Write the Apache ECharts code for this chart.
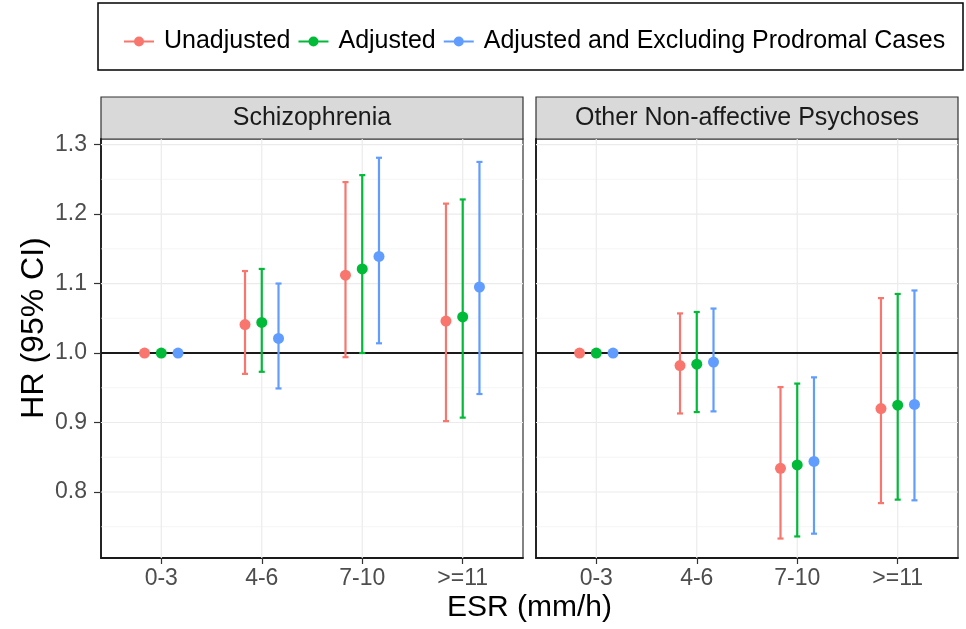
<!DOCTYPE html>
<html><head><meta charset="utf-8">
<script src="https://cdn.jsdelivr.net/npm/echarts@6/dist/echarts.min.js"></script>
<style>html,body{margin:0;padding:0;background:#fff}#c{width:966px;height:629px}</style>
</head><body><div id="c"></div>
<script>
// ---------- data ----------
const categories = ['0-3', '4-6', '7-10', '>=11'];
const panels = ['Schizophrenia', 'Other Non-affective Psychoses'];
const seriesNames = ['Unadjusted', 'Adjusted', 'Adjusted and Excluding Prodromal Cases'];
const yTicks = [0.8, 0.9, 1.0, 1.1, 1.2, 1.3];
const yMinor = [0.75, 0.85, 0.95, 1.05, 1.15, 1.25];
const refLine = [1.0];

// Schizophrenia panel
const schUnadjHR = [1.0, 1.041, 1.112, 1.046];
const schUnadjLo = [1.0, 0.970, 0.994, 0.902];
const schUnadjHi = [1.0, 1.118, 1.246, 1.215];
const schAdjHR = [1.0, 1.044, 1.121, 1.052];
const schAdjLo = [1.0, 0.973, 1.000, 0.907];
const schAdjHi = [1.0, 1.121, 1.256, 1.221];
const schExclHR = [1.0, 1.021, 1.139, 1.095];
const schExclLo = [1.0, 0.949, 1.014, 0.941];
const schExclHi = [1.0, 1.100, 1.281, 1.275];

// Other Non-affective Psychoses panel
const onpUnadjHR = [1.0, 0.982, 0.834, 0.920];
const onpUnadjLo = [1.0, 0.913, 0.733, 0.784];
const onpUnadjHi = [1.0, 1.057, 0.951, 1.079];
const onpAdjHR = [1.0, 0.984, 0.839, 0.925];
const onpAdjLo = [1.0, 0.915, 0.736, 0.789];
const onpAdjHi = [1.0, 1.059, 0.956, 1.085];
const onpExclHR = [1.0, 0.987, 0.844, 0.926];
const onpExclLo = [1.0, 0.916, 0.740, 0.788];
const onpExclHi = [1.0, 1.064, 0.965, 1.090];

// ---------- styling / layout ----------
const colors = ['#F8766D', '#00BA38', '#619CFF'];
const FONT = "'Liberation Sans', Arial, Helvetica, sans-serif";
const Y_MIN = 0.705, Y_MAX = 1.308;
const X_MIN = 0.4, X_MAX = 4.6;
const DODGE = [-1 / 6, 0, 1 / 6];
const CAP_W = 0.06;
const gridPos = [{ left: 101, top: 139, width: 422, height: 419 },
                 { left: 536, top: 139, width: 422, height: 419 }];

const panelData = [
  [[schUnadjHR, schUnadjLo, schUnadjHi], [schAdjHR, schAdjLo, schAdjHi], [schExclHR, schExclLo, schExclHi]],
  [[onpUnadjHR, onpUnadjLo, onpUnadjHi], [onpAdjHR, onpAdjLo, onpAdjHi], [onpExclHR, onpExclLo, onpExclHi]]
];

function hGridRender(width, color) {
  return function (params, api) {
    const y = api.coord([1, api.value(1)])[1];
    const cs = params.coordSys;
    return { type: 'line', shape: { x1: cs.x, y1: y, x2: cs.x + cs.width, y2: y },
             style: { stroke: color, lineWidth: width } };
  };
}
function vGridRender(width, color) {
  return function (params, api) {
    const x = api.coord([api.value(0), 1])[0];
    const cs = params.coordSys;
    return { type: 'line', shape: { x1: x, y1: cs.y, x2: x, y2: cs.y + cs.height },
             style: { stroke: color, lineWidth: width } };
  };
}
function errRender(params, api) {
  const x = api.value(0), lo = api.value(1), hi = api.value(2);
  const pLo = api.coord([x, lo]), pHi = api.coord([x, hi]);
  const hw = api.size([CAP_W, 0])[0] / 2;
  const style = { stroke: api.visual('color'), lineWidth: 2.2 };
  return { type: 'group', children: [
    { type: 'line', shape: { x1: pLo[0], y1: pLo[1], x2: pHi[0], y2: pHi[1] }, style },
    { type: 'line', shape: { x1: pLo[0] - hw, y1: pLo[1], x2: pLo[0] + hw, y2: pLo[1] }, style },
    { type: 'line', shape: { x1: pHi[0] - hw, y1: pHi[1], x2: pHi[0] + hw, y2: pHi[1] }, style }
  ] };
}

const series = [];
const xAxes = [], yAxes = [];
panels.forEach((p, pi) => {
  xAxes.push({
    type: 'value', gridIndex: pi, min: X_MIN, max: X_MAX,
    splitLine: { show: false },
    axisLine: { show: true, onZero: false, lineStyle: { color: '#1a1a1a', width: 1.8 } },
    axisTick: { show: true, length: 6, customValues: categories.map((c, i) => i + 1), lineStyle: { color: '#333', width: 1.2 } },
    axisLabel: {
      customValues: categories.map((c, i) => i + 1), margin: 9,
      fontSize: 23, color: '#4D4D4D', fontFamily: FONT,
      formatter: v => { const i = Math.round(v) - 1; return (Math.abs(v - Math.round(v)) < 1e-6 && categories[i]) ? categories[i] : ''; }
    }
  });
  yAxes.push({
    type: 'value', gridIndex: pi, min: Y_MIN, max: Y_MAX,
    splitLine: { show: false },
    axisLine: { show: true, onZero: false, lineStyle: { color: '#1a1a1a', width: 1.8 } },
    axisTick: { show: pi === 0, length: 7, customValues: yTicks, lineStyle: { color: '#333', width: 1.2 } },
    axisLabel: {
      show: pi === 0, customValues: yTicks, margin: 14,
      fontSize: 23, color: '#4D4D4D', fontFamily: FONT,
      formatter: v => yTicks.some(t => Math.abs(t - v) < 1e-6) ? v.toFixed(1) : ''
    }
  });
  // gridlines
  series.push({ type: 'custom', xAxisIndex: pi, yAxisIndex: pi, z: 1, silent: true,
    renderItem: hGridRender(0.6, '#EEEEEE'), data: yMinor.map(v => [1, v]), encode: { x: 0, y: 1 } });
  series.push({ type: 'custom', xAxisIndex: pi, yAxisIndex: pi, z: 1, silent: true,
    renderItem: hGridRender(1.2, '#EBEBEB'), data: yTicks.map(v => [1, v]), encode: { x: 0, y: 1 } });
  series.push({ type: 'custom', xAxisIndex: pi, yAxisIndex: pi, z: 1, silent: true,
    renderItem: vGridRender(1.2, '#EBEBEB'), data: categories.map((c, i) => [i + 1, 1]), encode: { x: 0, y: 1 } });
  // reference line
  series.push({ type: 'custom', xAxisIndex: pi, yAxisIndex: pi, z: 2, silent: true,
    renderItem: hGridRender(2, '#1a1a1a'), data: refLine.map(v => [1, v]), encode: { x: 0, y: 1 } });
  // points first (for legend lookup), then error bars
  panelData[pi].forEach((arrs, si) => {
    const [hr] = arrs;
    series.push({
      type: 'scatter', name: seriesNames[si], xAxisIndex: pi, yAxisIndex: pi, z: 4,
      symbol: 'circle', symbolSize: 11, itemStyle: { color: colors[si], opacity: 1 },
      data: hr.map((v, ci) => [ci + 1 + DODGE[si], v])
    });
  });
  panelData[pi].forEach((arrs, si) => {
    const [hr, lo, hi] = arrs;
    series.push({
      type: 'custom', name: seriesNames[si], xAxisIndex: pi, yAxisIndex: pi, z: 3,
      itemStyle: { color: colors[si] }, renderItem: errRender,
      data: hr.map((v, ci) => [ci + 1 + DODGE[si], lo[ci], hi[ci]]),
      encode: { x: 0, y: [1, 2] }
    });
  });
});

const legendIcon = 'path://M0,4H30V6H0Z M20,5A5,5,0,1,1,10,5A5,5,0,1,1,20,5Z';

const graphic = [
  { type: 'rect', shape: { x: 98, y: 3, width: 865, height: 67 }, style: { fill: '#fff', stroke: '#000', lineWidth: 1.5 }, z: 0 },
  { type: 'text', x: 34, y: 328, rotation: Math.PI / 2, style: { text: 'HR (95% CI)', fontSize: 32, fontFamily: FONT, fill: '#000', align: 'center', verticalAlign: 'middle' } },
  { type: 'text', x: 529.5, y: 608, style: { text: 'ESR (mm/h)', fontSize: 30, fontFamily: FONT, fill: '#000', align: 'center', verticalAlign: 'middle' } }
];
panels.forEach((p, pi) => {
  const g = gridPos[pi];
  graphic.push({ type: 'rect', shape: { x: g.left, y: 97, width: g.width, height: 42 }, style: { fill: '#D9D9D9', stroke: '#333', lineWidth: 1.2 } });
  graphic.push({ type: 'text', x: g.left + g.width / 2, y: 118, style: { text: p, fontSize: 25, fontFamily: FONT, fill: '#1A1A1A', align: 'center', verticalAlign: 'middle' } });
});

const option = {
  backgroundColor: '#fff',
  animation: false,
  grid: gridPos.map(g => Object.assign({ show: true, borderColor: '#333', borderWidth: 1.2, backgroundColor: 'transparent', containLabel: false }, g)),
  xAxis: xAxes,
  yAxis: yAxes,
  legend: {
    left: 124, top: 29, padding: 0, itemWidth: 30, itemHeight: 10, itemGap: 8,
    selectedMode: false, z: 10,
    data: seriesNames.map(n => ({ name: n, icon: legendIcon })),
    textStyle: { fontSize: 25, color: '#000', fontFamily: FONT, padding: [0, 0, 0, 5] }
  },
  graphic: graphic,
  series: series
};
const chart = echarts.init(document.getElementById('c'), null, { renderer: 'canvas' });
chart.setOption(option);
</script></body></html>
